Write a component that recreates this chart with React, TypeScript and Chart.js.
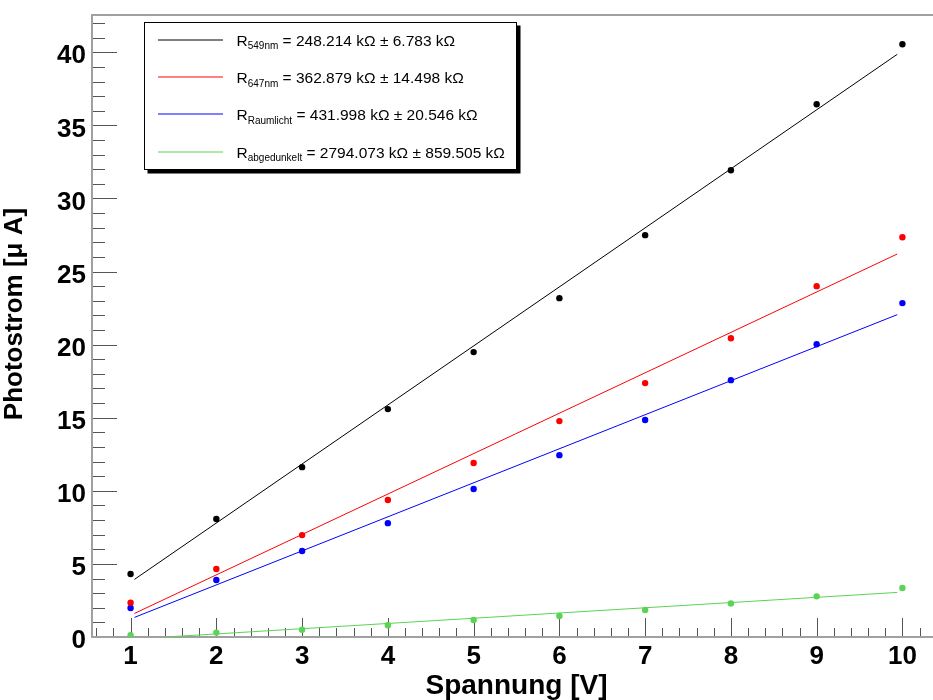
import { useEffect, useRef } from "react";
import { Chart, registerables } from "chart.js";

Chart.register(...registerables);

// ---- data ----
const voltages = [1, 2, 3, 4, 5, 6, 7, 8, 9, 10];
const current549nm = [4.31, 8.07, 11.62, 15.59, 19.49, 23.18, 27.49, 31.93, 36.44, 40.55];
const current647nm = [2.35, 4.65, 6.97, 9.37, 11.9, 14.77, 17.37, 20.44, 24.0, 27.35];
const currentRaumlicht = [1.98, 3.9, 5.88, 7.79, 10.12, 12.44, 14.84, 17.57, 20.03, 22.84];
const currentAbgedunkelt = [0.12, 0.3, 0.5, 0.8, 1.16, 1.44, 1.85, 2.3, 2.78, 3.35];

const fitVoltages = [1.045, 9.94];
const fit549nm = [3.94, 39.86];
const fit647nm = [1.61, 26.2];
const fitRaumlicht = [1.34, 22.05];
const fitAbgedunkelt = [-0.13, 3.05];

const xTickValues = [1, 2, 3, 4, 5, 6, 7, 8, 9, 10];
const yTickValues = [0, 5, 10, 15, 20, 25, 30, 35, 40];

const legendSubscripts = ["549nm", "647nm", "Raumlicht", "abgedunkelt"];
const legendValues = [
  "= 248.214 kΩ ± 6.783 kΩ",
  "= 362.879 kΩ ± 14.498 kΩ",
  "= 431.998 kΩ ± 20.546 kΩ",
  "= 2794.073 kΩ ± 859.505 kΩ",
];
const seriesColors = ["#000000", "#ff0000", "#0000ff", "#59d454"];

const xTitle = "Spannung [V]";
const yTitle = "Photostrom [μ A]";

const FONT = '"Liberation Sans", Arial, sans-serif';

const rootFrame = {
  id: "rootFrame",
  beforeDatasetsDraw(chart: any) {
    const { ctx, chartArea: a, scales } = chart;
    const xs = scales.x;
    const ys = scales.y;
    ctx.save();
    ctx.lineWidth = 1;
    ctx.strokeStyle = "#555555";
    // y ticks (inside)
    for (let i = 0; i <= 42; i++) {
      const y = Math.round(ys.getPixelForValue(i)) + 0.5;
      const len = i % 5 === 0 ? 25 : 13;
      ctx.beginPath();
      ctx.moveTo(a.left, y);
      ctx.lineTo(a.left + len, y);
      ctx.stroke();
    }
    // x ticks (inside)
    for (let k = 3; k <= 52; k++) {
      const v = k * 0.2;
      const x = Math.round(xs.getPixelForValue(v)) + 0.5;
      const len = k % 5 === 0 ? 19 : 9;
      ctx.beginPath();
      ctx.moveTo(x, a.bottom);
      ctx.lineTo(x, a.bottom - len);
      ctx.stroke();
    }
    // frame
    ctx.strokeStyle = "#a0a0a0";
    ctx.lineWidth = 2;
    ctx.strokeRect(a.left, a.top, a.right - a.left, a.bottom - a.top);
    // y title
    ctx.fillStyle = "#000";
    ctx.font = `bold 26px ${FONT}`;
    ctx.textAlign = "center";
    ctx.textBaseline = "middle";
    ctx.translate(15, 314);
    ctx.rotate(-Math.PI / 2);
    ctx.fillText(yTitle, 0, 0);
    ctx.restore();
  },
};

const rootLegend = {
  id: "rootLegend",
  afterDraw(chart: any) {
    const { ctx } = chart;
    ctx.save();
    const L = 144.5, T = 22.5, R = 516.5, B = 169.5;
    ctx.fillStyle = "#000";
    ctx.fillRect(L + 3, T + 3, R - L + 1, B - T + 1);
    ctx.fillStyle = "#fff";
    ctx.fillRect(L, T, R - L, B - T);
    ctx.strokeStyle = "#000";
    ctx.lineWidth = 1;
    ctx.strokeRect(L, T, R - L, B - T);
    ctx.textAlign = "left";
    ctx.textBaseline = "alphabetic";
    for (let i = 0; i < legendSubscripts.length; i++) {
      const base = 45.7 + i * 37.3;
      const ly = Math.round(base - 6);
      ctx.strokeStyle = seriesColors[i];
      ctx.lineWidth = 1;
      ctx.beginPath();
      ctx.moveTo(158, ly);
      ctx.lineTo(223, ly);
      ctx.stroke();
      let x = 236.5;
      ctx.fillStyle = "#000";
      ctx.font = `15.5px ${FONT}`;
      ctx.fillText("R", x, base);
      x += ctx.measureText("R").width;
      ctx.font = `10px ${FONT}`;
      ctx.fillText(legendSubscripts[i], x, base + 3.6);
      x += ctx.measureText(legendSubscripts[i]).width;
      ctx.font = `15.5px ${FONT}`;
      ctx.fillText(" " + legendValues[i], x, base);
    }
    ctx.restore();
  },
};

const zeroPadding = (s: any) => {
  s.paddingTop = 0;
  s.paddingBottom = 0;
  s.paddingLeft = 0;
  s.paddingRight = 0;
};

export default function App() {
  const ref = useRef<HTMLCanvasElement>(null);
  useEffect(() => {
    const canvas = ref.current!;
    const pts = (ys: number[]) => voltages.map((x, i) => ({ x, y: ys[i] }));
    const fit = (ys: number[]) => fitVoltages.map((x, i) => ({ x, y: ys[i] }));
    const series = [current549nm, current647nm, currentRaumlicht, currentAbgedunkelt];
    const fits = [fit549nm, fit647nm, fitRaumlicht, fitAbgedunkelt];
    const datasets: any[] = [];
    series.forEach((s, i) => {
      datasets.push({
        type: "scatter",
        data: pts(s),
        showLine: false,
        pointRadius: 3.2,
        pointBorderWidth: 0,
        pointBackgroundColor: seriesColors[i],
        backgroundColor: seriesColors[i],
        borderColor: seriesColors[i],
      });
    });
    fits.forEach((f, i) => {
      datasets.push({
        type: "line",
        data: fit(f),
        showLine: true,
        pointRadius: 0,
        borderWidth: 1,
        borderColor: seriesColors[i],
        fill: false,
        tension: 0,
      });
    });
    const chart = new Chart(canvas, {
      type: "scatter",
      data: { datasets },
      plugins: [rootFrame, rootLegend],
      options: {
        animation: false,
        responsive: false,
        maintainAspectRatio: false,
        devicePixelRatio: 1,
        layout: { padding: { top: 15, right: 4, left: 0, bottom: 0 } },
        plugins: { legend: { display: false }, tooltip: { enabled: false } },
        scales: {
          x: {
            type: "linear",
            min: 0.55,
            max: 10.45,
            grid: { display: false, drawTicks: false },
            border: { display: false },
            afterBuildTicks: (s: any) => {
              s.ticks = xTickValues.map((v) => ({ value: v }));
            },
            afterFit: (s: any) => {
              s.height = 63;
              zeroPadding(s);
            },
            ticks: {
              padding: 4,
              color: "#000",
              maxRotation: 0,
              autoSkip: false,
              font: { family: FONT, weight: "bold", size: 26 },
            },
            title: {
              display: true,
              text: xTitle,
              color: "#000",
              padding: 0,
              font: { family: FONT, weight: "bold", size: 28, lineHeight: 1 },
            },
          },
          y: {
            type: "linear",
            min: 0,
            max: 42.55,
            grid: { display: false, drawTicks: false },
            border: { display: false },
            afterBuildTicks: (s: any) => {
              s.ticks = yTickValues.map((v) => ({ value: v }));
            },
            afterFit: (s: any) => {
              s.width = 92;
              zeroPadding(s);
            },
            ticks: {
              padding: 6,
              labelOffset: 4,
              color: "#000",
              autoSkip: false,
              font: { family: FONT, weight: "bold", size: 26 },
            },
          },
        },
      } as any,
    });
    return () => chart.destroy();
  }, []);
  return (
    <div
      style={{
        position: "fixed",
        left: 0,
        top: 0,
        width: 933,
        height: 700,
        overflow: "hidden",
        background: "#fff",
      }}
    >
      <canvas ref={ref} width={945} height={700} style={{ display: "block", width: 945, height: 700 }} />
    </div>
  );
}
